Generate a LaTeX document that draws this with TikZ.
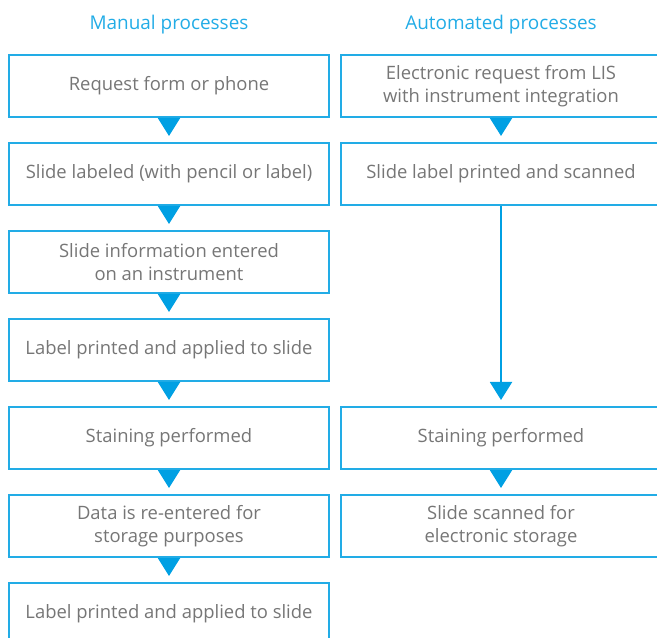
\documentclass[tikz,border=0pt]{standalone}
\usepackage{fontspec}
\setmainfont{Open Sans}
\usepackage{xcolor}
\usepackage{tikz}
\usetikzlibrary{positioning,arrows.meta}
\definecolor{flowblue}{RGB}{0,160,227}
\definecolor{edgeblue}{RGB}{34,172,230}
\definecolor{textgray}{RGB}{118,118,118}
\tikzset{
    stepbox/.style={rectangle, draw=edgeblue, line width=2bp, minimum width=320bp, minimum height=62bp,
        text=textgray, align=center, font=\fontsize{18.5}{23}\selectfont, inner sep=2bp},
    flow/.style={draw=flowblue, line width=2bp, -{Triangle[width=22bp,length=18bp]}, shorten >=6bp},
    coltitle/.style={text=edgeblue, font=\fontsize{19}{22}\selectfont}
}

\begin{document}
\begin{tikzpicture}[x=1bp, y=1bp]
    \useasboundingbox (0,0) rectangle (657,638);
    \clip (0,0) rectangle (657,638);

    % Manual column
    \node[stepbox] (m1) at (169,552) {Request form or phone};
    \node[stepbox, below=24bp of m1] (m2) {Slide labeled (with pencil or label)};
    \node[stepbox, below=24bp of m2] (m3) {Slide information entered\\on an instrument};
    \node[stepbox, below=24bp of m3] (m4) {Label printed and applied to slide};
    \node[stepbox, below=24bp of m4] (m5) {Staining performed};
    \node[stepbox, below=24bp of m5] (m6) {Data is re-entered for\\storage purposes};
    \node[stepbox, below=24bp of m6] (m7) {Label printed and applied to slide};

    % Automated column
    \node[stepbox, right=10bp of m1] (a1) {Electronic request from LIS\\with instrument integration};
    \node[stepbox, right=10bp of m2] (a2) {Slide label printed and scanned};
    \node[stepbox, right=10bp of m5] (a3) {Staining performed};
    \node[stepbox, right=10bp of m6] (a4) {Slide scanned for\\electronic storage};

    % Arrows
    \foreach \i/\j in {m1/m2, m2/m3, m3/m4, m4/m5, m5/m6, m6/m7, a1/a2, a2/a3, a3/a4}
        \draw[flow] (\i) -- (\j);

    % Column titles
    \node[coltitle, above=16bp of m1] (tman) {Manual processes};
    \node[coltitle, above=16bp of a1] (taut) {Automated processes};
\end{tikzpicture}
\end{document}
